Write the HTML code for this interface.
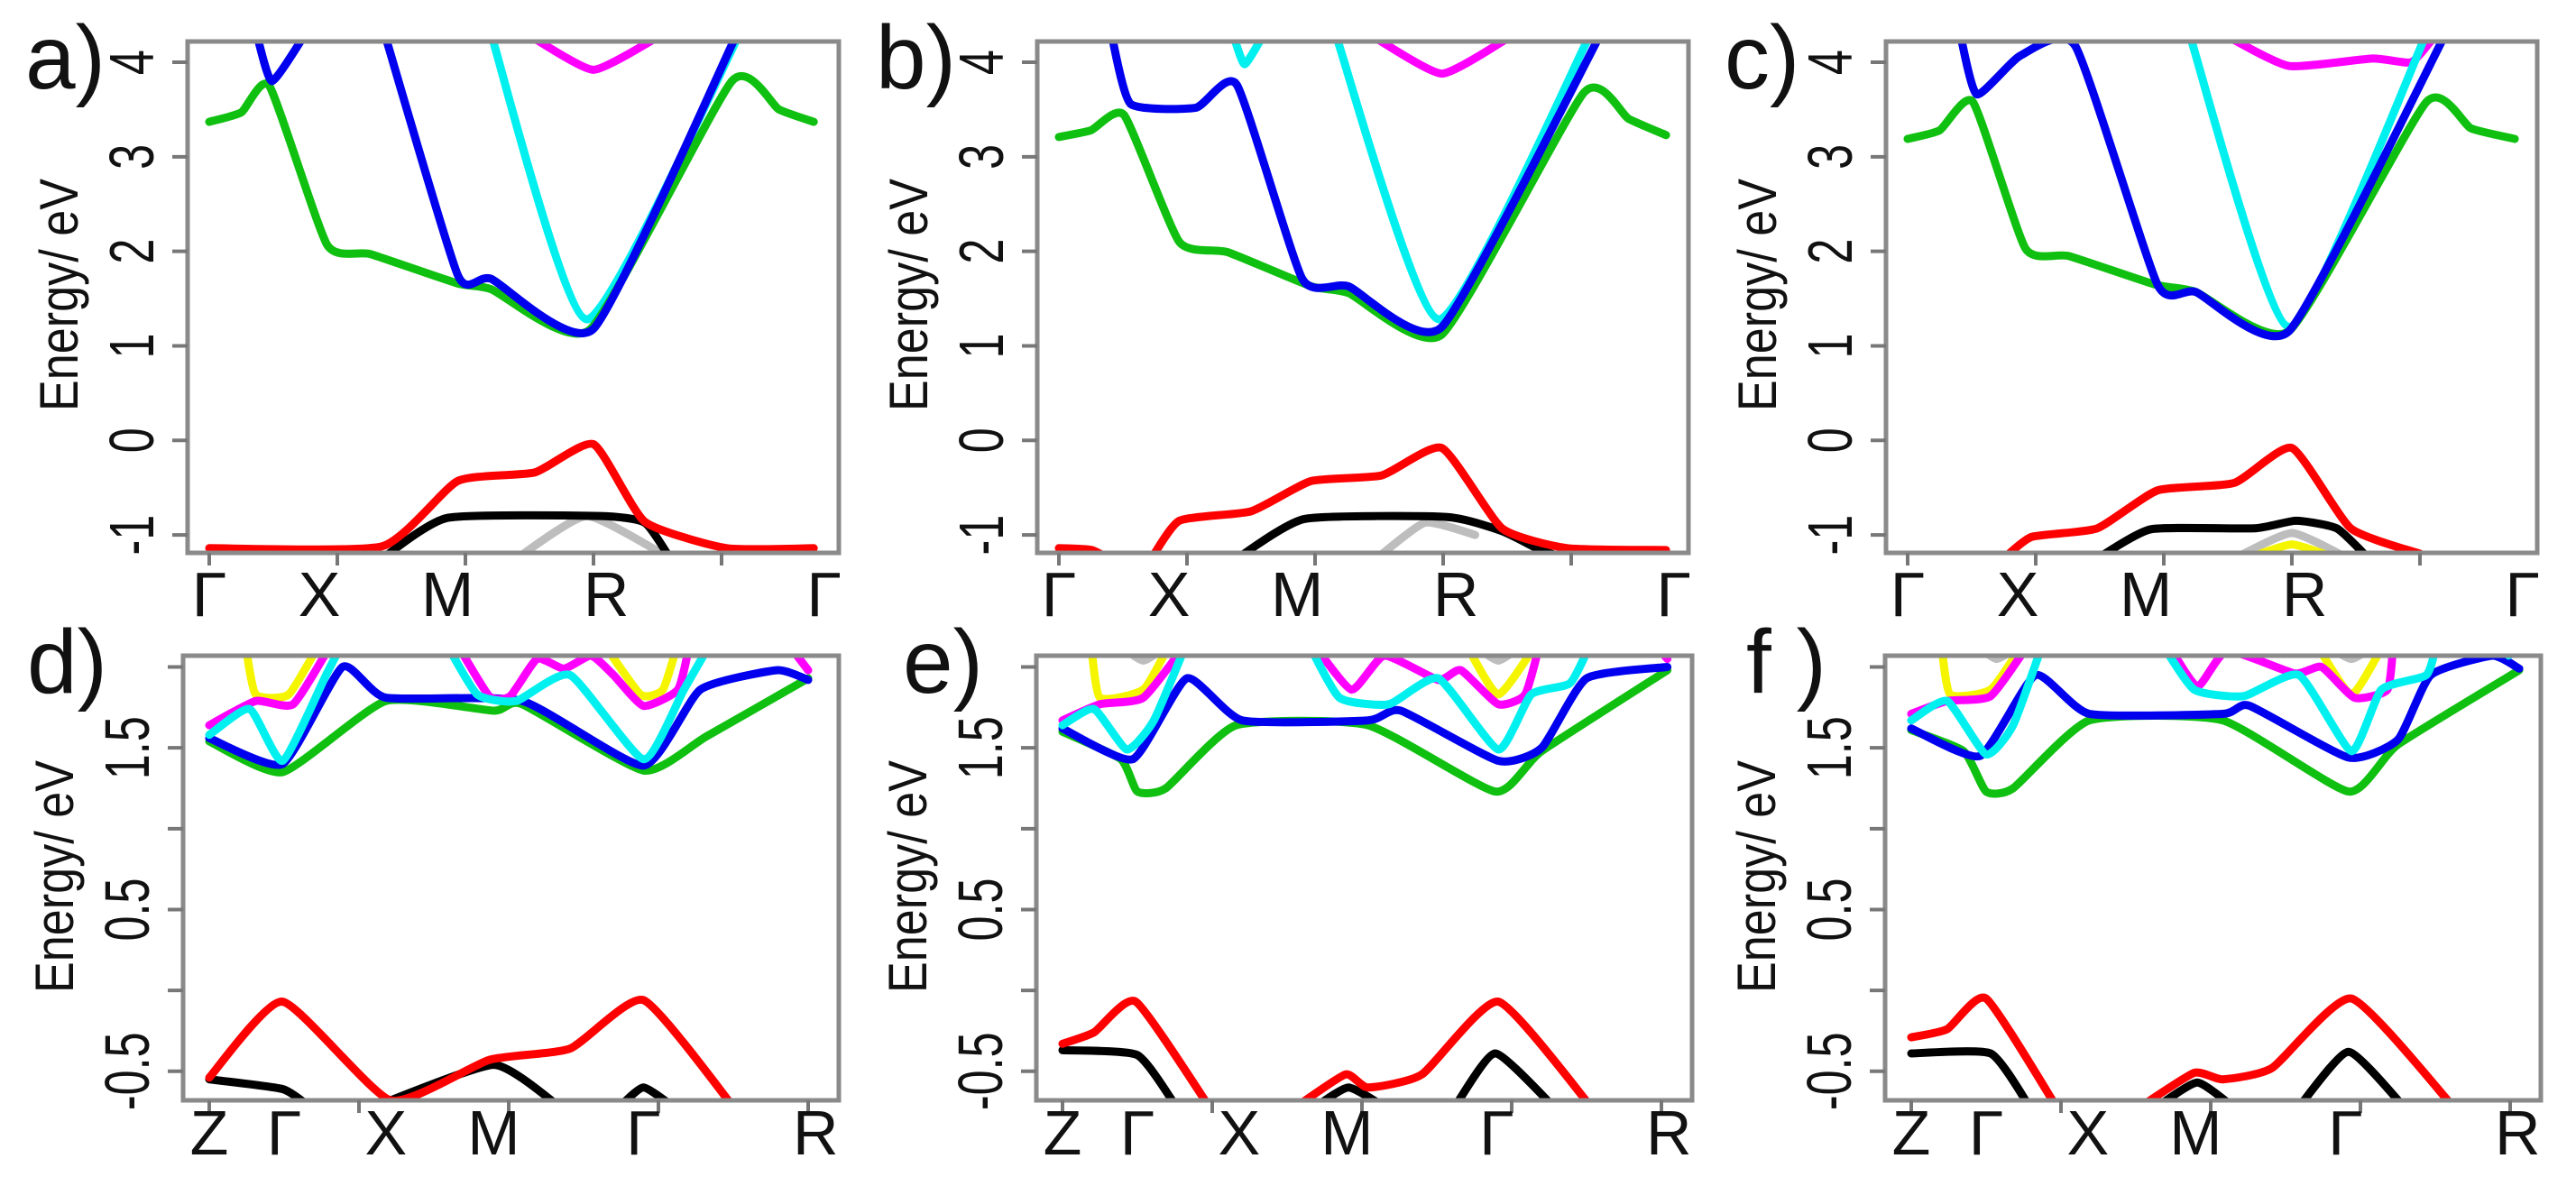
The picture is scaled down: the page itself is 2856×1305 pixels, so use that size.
<!DOCTYPE html>
<html><head><meta charset="utf-8"><style>
html,body{margin:0;padding:0;background:#fff;}
svg{display:block;font-family:"Liberation Sans",sans-serif;}
</style></head><body>
<svg id="fig" width="2856" height="1305" viewBox="0 0 2856 1305" xmlns="http://www.w3.org/2000/svg"></svg>
<script>
// ---------- data: top row (k path Γ X M R Γ) ----------
const aGreenK=[0,0.25,0.47,0.92,1.26,1.94,2.2,2.97,4.08,4.45,4.72];
const aGreenE=[3.37,3.47,3.75,2.07,1.97,1.66,1.6,1.17,3.8,3.5,3.37];
const aBlueK=[0.37,0.49,0.75,null,1.37,1.94,2.2,3.0,4.12];
const aBlueE=[4.3,3.8,4.3,null,4.3,1.75,1.71,1.18,4.3];
const aCyanK=[2.2,2.95,4.14];
const aCyanE=[4.3,1.28,4.3];
const aMagK=[2.54,3.0,3.48];
const aMagE=[4.25,3.92,4.25];
const aRedK=[0,1.35,1.94,2.54,3.0,3.4,4.04,4.72];
const aRedE=[-1.14,-1.12,-0.43,-0.34,-0.04,-0.86,-1.14,-1.14];
const aBlackK=[1.35,1.86,3.05,3.4,3.6];
const aBlackE=[-1.25,-0.82,-0.8,-0.87,-1.25];
const aGrayK=[2.4,2.95,3.6];
const aGrayE=[-1.25,-0.8,-1.25];

const bGreenK=[0,0.25,0.51,0.94,1.32,1.97,2.26,2.99,4.1,4.45,4.74];
const bGreenE=[3.21,3.28,3.44,2.1,1.99,1.63,1.56,1.12,3.68,3.4,3.23];
const bBlueK=[0.41,0.56,1.07,1.39,1.9,2.26,2.99,4.23];
const bBlueE=[4.3,3.56,3.52,3.76,1.71,1.63,1.2,4.3];
const bCyanK=[1.37,1.45,1.58,null,2.16,2.97,4.15];
const bCyanE=[4.25,3.98,4.25,null,4.3,1.28,4.3];
const bMagK=[2.48,2.99,3.5];
const bMagE=[4.25,3.88,4.25];
const bRedK=[0,0.26,0.45,null,0.7,0.94,1.5,1.97,2.52,2.99,3.46,3.97,4.74];
const bRedE=[-1.14,-1.16,-1.3,null,-1.3,-0.85,-0.75,-0.43,-0.37,-0.08,-0.93,-1.14,-1.16];
const bBlackK=[1.39,1.92,3.03,3.46,3.76,3.97];
const bBlackE=[-1.25,-0.83,-0.81,-0.96,-1.16,-1.25];
const bGrayK=[2.48,2.86,3.25];
const bGrayE=[-1.25,-0.87,-1.0];

const cGreenK=[0,0.25,0.51,0.92,1.26,1.93,2.25,2.98,4.05,4.4,4.74];
const cGreenE=[3.19,3.28,3.58,2.03,1.95,1.65,1.57,1.16,3.58,3.3,3.19];
const cBlueK=[0.41,0.54,0.88,1.31,1.95,2.25,2.98,4.2];
const cBlueE=[4.3,3.66,4.07,4.17,1.65,1.57,1.16,4.3];
const cCyanK=[2.2,2.98,4.05];
const cCyanE=[4.3,1.2,4.3];
const cMagK=[2.53,2.98,3.63,3.93,4.1];
const cMagE=[4.25,3.96,4.04,4.0,4.25];
const cRedK=[0.75,0.97,1.48,1.95,2.55,3.0,3.46,4.0];
const cRedE=[-1.25,-1.02,-0.93,-0.53,-0.45,-0.08,-0.93,-1.2];
const cBlackK=[1.48,1.9,2.71,3.03,3.35,3.6];
const cBlackE=[-1.25,-0.94,-0.93,-0.85,-0.93,-1.25];
const cGrayK=[2.55,3.0,3.44];
const cGrayE=[-1.25,-0.98,-1.25];
const cYellowK=[2.65,3.0,3.35];
const cYellowE=[-1.25,-1.1,-1.25];

// ---------- data: bottom row (k path Z Γ X M Γ R) ----------
const dGreenK=[0,0.49,1.18,1.9,2.09,2.9,3.32,4.0];
const dGreenE=[1.54,1.35,1.79,1.73,1.77,1.36,1.57,1.93];
const dBlueK=[0,0.49,0.89,1.18,2.09,2.9,3.28,3.79,4.0];
const dBlueE=[1.56,1.4,2.0,1.81,1.79,1.39,1.86,1.98,1.92];
const dCyanK=[0,0.27,0.49,0.78,0.89,null,1.58,1.79,2.05,2.41,2.9,3.17,3.35];
const dCyanE=[1.58,1.74,1.42,1.95,2.15,null,2.15,1.83,1.79,1.95,1.43,1.86,2.15];
const dMagK=[0,0.31,0.56,0.82,null,1.65,1.87,2.01,2.19,2.37,2.55,2.7,2.9,3.13,3.21,null,3.86,4.0];
const dMagE=[1.64,1.79,1.77,2.15,null,2.15,1.82,1.82,2.05,1.99,2.07,1.95,1.76,1.86,2.15,null,2.15,1.98];
const dYellowK=[0.24,0.31,0.53,0.74,null,2.63,2.88,3.03,3.13];
const dYellowE=[2.15,1.83,1.83,2.15,null,2.15,1.83,1.86,2.15];
const dRedK=[0,0.49,1.21,1.87,2.41,2.9,3.5];
const dRedE=[-0.54,-0.07,-0.68,-0.43,-0.36,-0.06,-0.72];
const dBlackK=[0,0.49,0.67,null,1.1,1.9,2.34,null,2.74,2.9,3.1];
const dBlackE=[-0.55,-0.61,-0.72,null,-0.72,-0.46,-0.72,null,-0.72,-0.6,-0.72];

const eGreenK=[0,0.39,0.5,0.69,1.16,2.04,2.89,3.2,4.04];
const eGreenE=[1.6,1.43,1.23,1.25,1.64,1.64,1.23,1.48,1.98];
const eBlueK=[0,0.47,0.83,1.2,2.04,2.26,2.91,3.2,3.5,4.04];
const eBlueE=[1.62,1.43,1.93,1.67,1.67,1.73,1.42,1.5,1.93,2.0];
const eCyanK=[0,0.21,0.43,0.61,0.83,null,1.64,1.85,2.18,2.51,2.91,3.13,3.39,3.53];
const eCyanE=[1.64,1.74,1.49,1.67,2.15,null,2.15,1.81,1.77,1.93,1.49,1.83,1.9,2.15];
const eMagK=[0,0.25,0.54,0.83,null,1.67,1.93,2.15,2.51,2.66,2.91,3.09,3.19,null,3.95,4.04];
const eMagE=[1.67,1.77,1.81,2.15,null,2.15,1.86,2.07,1.92,1.98,1.77,1.83,2.15,null,2.15,2.05];
const eYellowK=[0.19,0.25,0.54,0.72,null,2.69,2.91,3.17];
const eYellowE=[2.15,1.81,1.86,2.15,null,2.15,1.83,2.15];
const eGrayK=[0.36,0.54,0.72,null,2.73,2.91,3.09];
const eGrayE=[2.15,2.04,2.15,null,2.15,2.04,2.15];
const eRedK=[0,0.21,0.49,0.98,null,1.56,1.89,2.04,2.4,2.91,3.53];
const eRedE=[-0.33,-0.26,-0.07,-0.72,null,-0.72,-0.52,-0.6,-0.52,-0.07,-0.72];
const eBlackK=[0,0.5,0.76,null,1.69,1.91,2.15,null,2.62,2.89,3.28];
const eBlackE=[-0.37,-0.4,-0.72,null,-0.72,-0.6,-0.72,null,-0.72,-0.39,-0.72];

const fGreenK=[0,0.35,0.5,0.68,1.19,2.08,2.92,3.25,4.06];
const fGreenE=[1.61,1.48,1.23,1.25,1.67,1.67,1.23,1.52,1.98];
const fBlueK=[0,0.46,0.83,1.19,2.08,2.26,2.92,3.25,3.47,3.88,4.06];
const fBlueE=[1.62,1.45,1.95,1.71,1.71,1.76,1.44,1.55,1.95,2.07,1.99];
const fCyanK=[0,0.24,0.5,0.68,0.88,null,1.67,1.89,2.22,2.59,2.94,3.14,3.44,3.51,null,3.99,4.08];
const fCyanE=[1.67,1.79,1.46,1.64,2.15,null,2.15,1.86,1.82,1.95,1.48,1.86,1.95,2.15,null,2.07,2.15];
const fMagK=[0,0.24,0.53,0.79,null,1.71,1.91,2.11,2.56,2.74,2.96,3.18,3.22];
const fMagE=[1.71,1.79,1.82,2.15,null,2.15,1.88,2.1,1.96,2.0,1.81,1.86,2.15];
const fYellowK=[0.2,0.26,0.53,0.75,null,2.7,2.94,3.16];
const fYellowE=[2.15,1.83,1.86,2.15,null,2.15,1.83,2.15];
const fGrayK=[0.42,0.57,0.75,null,2.75,2.94,3.12];
const fGrayE=[2.15,2.05,2.15,null,2.15,2.05,2.15];
const fRedK=[0,0.24,0.5,0.97,null,1.53,1.89,2.08,2.41,2.94,3.62];
const fRedE=[-0.29,-0.24,-0.05,-0.72,null,-0.72,-0.51,-0.55,-0.48,-0.05,-0.72];
const fBlackK=[0,0.53,0.79,null,1.64,1.91,2.15,null,2.59,2.92,3.29];
const fBlackE=[-0.39,-0.39,-0.72,null,-0.72,-0.57,-0.72,null,-0.72,-0.38,-0.72];

// ---------- axis ticks / labels ----------
const topYTicks=[-1,0,1,2,3,4];
const topYLabels=["-1","0","1","2","3","4"];
const topXTickK=[0,1,2,3,4];
const topXLabels=["Γ","X","M","R","Γ"];
const topXLabelK=[0,0.86,1.86,3.1,4.8];
const botYTicks=[-0.5,0,0.5,1,1.5,2];
const botYLabelVals=[-0.5,0.5,1.5];
const botYLabels=["-0.5","0.5","1.5"];
const botXTickK=[0,1,2,3,4];
const botXLabels=["Z","Γ","X","M","Γ","R"];
const botXLabelK=[0,0.5,1.18,1.9,2.9,4.05];

const COL={green:"#10c010",blue:"#0000ee",cyan:"#00f0f0",mag:"#ff00ff",red:"#ff0000",black:"#000000",gray:"#bdbdbd",yellow:"#f5f500"};
const NS="http://www.w3.org/2000/svg";
const svg=document.getElementById('fig');
function mk(tag,attrs,parent){const e=document.createElementNS(NS,tag);for(const k in attrs)e.setAttribute(k,attrs[k]);(parent||svg).appendChild(e);return e;}

function spline(pts){
  if(pts.length<2)return "";
  let d="M"+pts[0][0].toFixed(1)+","+pts[0][1].toFixed(1);
  for(let i=0;i<pts.length-1;i++){
    const p0=pts[i>0?i-1:i],p1=pts[i],p2=pts[i+1],p3=pts[i+2<pts.length?i+2:i+1];
    const t=0.09;
    const c1x=p1[0]+(p2[0]-p0[0])*t,c1y=p1[1]+(p2[1]-p0[1])*t;
    const c2x=p2[0]-(p3[0]-p1[0])*t,c2y=p2[1]-(p3[1]-p1[1])*t;
    d+=" C"+c1x.toFixed(1)+","+c1y.toFixed(1)+" "+c2x.toFixed(1)+","+c2y.toFixed(1)+" "+p2[0].toFixed(1)+","+p2[1].toFixed(1);
  }
  return d;
}

const panels=[
 {id:"a",row:0,left:208,bands:[["gray",aGrayK,aGrayE],["black",aBlackK,aBlackE],["red",aRedK,aRedE],["mag",aMagK,aMagE],["cyan",aCyanK,aCyanE],["green",aGreenK,aGreenE],["blue",aBlueK,aBlueE]]},
 {id:"b",row:0,left:1150,bands:[["gray",bGrayK,bGrayE],["black",bBlackK,bBlackE],["red",bRedK,bRedE],["mag",bMagK,bMagE],["cyan",bCyanK,bCyanE],["green",bGreenK,bGreenE],["blue",bBlueK,bBlueE]]},
 {id:"c",row:0,left:2091,bands:[["gray",cGrayK,cGrayE],["yellow",cYellowK,cYellowE],["black",cBlackK,cBlackE],["red",cRedK,cRedE],["mag",cMagK,cMagE],["cyan",cCyanK,cCyanE],["green",cGreenK,cGreenE],["blue",cBlueK,cBlueE]]},
 {id:"d",row:1,left:203,bands:[["black",dBlackK,dBlackE],["red",dRedK,dRedE],["yellow",dYellowK,dYellowE],["green",dGreenK,dGreenE],["blue",dBlueK,dBlueE],["mag",dMagK,dMagE],["cyan",dCyanK,dCyanE]]},
 {id:"e",row:1,left:1149,bands:[["black",eBlackK,eBlackE],["red",eRedK,eRedE],["gray",eGrayK,eGrayE],["yellow",eYellowK,eYellowE],["green",eGreenK,eGreenE],["blue",eBlueK,eBlueE],["mag",eMagK,eMagE],["cyan",eCyanK,eCyanE]]},
 {id:"f",row:1,left:2090,bands:[["black",fBlackK,fBlackE],["red",fRedK,fRedE],["gray",fGrayK,fGrayE],["yellow",fYellowK,fYellowE],["green",fGreenK,fGreenE],["blue",fBlueK,fBlueE],["mag",fMagK,fMagE],["cyan",fCyanK,fCyanE]]}
];
const ROW=[
 {top:46,h:567,w:722,k0:24,ks:142,emin:-1.19,emax:4.22,yt:topYTicks,ylv:topYTicks,yl:topYLabels,xt:topXTickK,xl:topXLabels,xlk:topXLabelK,xlBase:683,letterY:98,titleY:327},
 {top:727,h:493,w:727,k0:29,ks:166,emin:-0.68,emax:2.07,yt:botYTicks,ylv:botYLabelVals,yl:botYLabels,xt:botXTickK,xl:botXLabels,xlk:botXLabelK,xlBase:1280,letterY:768,titleY:972}
];
const letters={a:"a)",b:"b)",c:"c)",d:"d)",e:"e)",f:"f )"};
const letterX={a:28,b:971,c:1912,d:30,e:1001,f:1936};

panels.forEach(p=>{
  const R=ROW[p.row];
  const X=k=>p.left+R.k0+k*R.ks;
  const Y=e=>R.top+(R.emax-e)/(R.emax-R.emin)*R.h;
  const g=mk('g',{});
  
  
  const cp=mk('clipPath',{id:'clip-'+p.id},g);
  mk('rect',{x:p.left,y:R.top,width:R.w,height:R.h},cp);
  const bandsG=mk('g',{'clip-path':'url(#clip-'+p.id+')'},g);
  
  
  p.bands.forEach(b=>{
    const [col,K,E]=b;
    let seg=[],segs=[];
    for(let i=0;i<K.length;i++){
      if(K[i]===null){if(seg.length)segs.push(seg);seg=[];continue;}
      seg.push([X(K[i]),Y(E[i])]);
    }
    if(seg.length)segs.push(seg);
    const d=segs.map(spline).join(" ");
    const path=mk('path',{d:d,fill:'none',stroke:COL[col],'stroke-width':9,'stroke-linejoin':'round','stroke-linecap':'round'},bandsG);
    
    
  });
  const frame=mk('rect',{x:p.left,y:R.top,width:R.w,height:R.h,fill:'none',stroke:'#8a8a8a','stroke-width':5},g);
  
  
  R.yt.forEach(v=>{
    const t=mk('line',{x1:p.left-17,x2:p.left,y1:Y(v),y2:Y(v),stroke:'#777','stroke-width':4},g);
    
    
  });
  R.ylv.forEach((v,i)=>{
    const t=mk('text',{transform:'translate('+(p.left-62)+','+Y(v)+') rotate(-90) scale(0.72,1)','text-anchor':'middle','dominant-baseline':'central','font-size':70,fill:'#111'},g);
    t.textContent=R.yl[i];
    
    
  });
  R.xt.forEach(k=>{
    const t=mk('line',{x1:X(k),x2:X(k),y1:R.top+R.h,y2:R.top+R.h+14,stroke:'#777','stroke-width':4},g);
    
    
  });
  R.xlk.forEach((k,i)=>{
    const t=mk('text',{x:X(k),y:R.xlBase,'text-anchor':'middle','font-size':70,fill:'#111'},g);
    t.textContent=R.xl[i];
    
    
  });
  const yt=mk('text',{transform:'translate('+(p.left-122)+','+R.titleY+') rotate(-90)','text-anchor':'middle','font-size':60,fill:'#111',textLength:258,lengthAdjust:'spacingAndGlyphs'},g);
  yt.textContent='Energy/ eV';
  
  
  const lt=mk('text',{x:letterX[p.id],y:R.letterY,'font-size':100,fill:'#111'},g);
  lt.textContent=letters[p.id];
  
  
});
</script>
</body></html>
